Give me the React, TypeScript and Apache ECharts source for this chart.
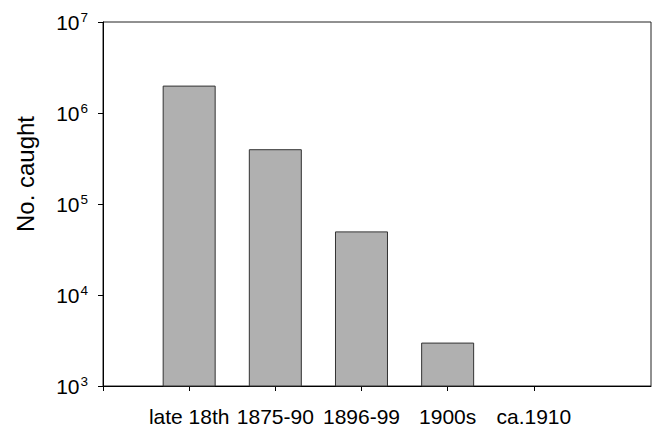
import React, { useEffect, useRef } from "react";
import * as echarts from "echarts";

const categories = ["late 18th", "1875-90", "1896-99", "1900s", "ca.1910"];
const caught: (number | null)[] = [2000000, 400000, 50000, 3000, null];
const xPositions = [1, 2, 3, 4, 5];
const xTickValues = [0, 1, 2, 3, 4, 5];
const yMin = 1000;
const yMax = 10000000;
const yAxisTitle = "No. caught";

export default function App() {
  const ref = useRef<HTMLDivElement>(null);
  useEffect(() => {
    if (!ref.current) return;
    const chart = echarts.init(ref.current, undefined, { renderer: "svg" });
    const font = "Liberation Sans, Arial, sans-serif";
    chart.setOption({
      animation: false,
      backgroundColor: "#ffffff",
      textStyle: { fontFamily: font },
      grid: {
        left: 103,
        right: 2,
        top: 22,
        bottom: 39,
        show: true,
        borderColor: "#222",
        borderWidth: 1,
        backgroundColor: "transparent",
      },
      graphic: [
        {
          type: "text",
          x: 25,
          y: 174,
          rotation: Math.PI / 2,
          style: {
            text: yAxisTitle,
            fontSize: 24,
            fontFamily: font,
            fill: "#000",
            textAlign: "center",
            textVerticalAlign: "middle",
          },
        },
      ],
      xAxis: {
        type: "value",
        min: 0,
        max: 6.36,
        interval: 1,
        splitLine: { show: false },
        axisLine: { show: true, lineStyle: { color: "#000", width: 1 } },
        axisTick: {
          show: true,
          length: 5,
          inside: false,
          customValues: xTickValues,
          lineStyle: { color: "#000" },
        },
        axisLabel: {
          customValues: xPositions,
          margin: 20,
          fontSize: 21,
          color: "#000",
          fontFamily: font,
          formatter: (v: number) => {
            const idx = xPositions.indexOf(Math.round(v));
            return idx >= 0 ? categories[idx] : "";
          },
        },
      },
      yAxis: {
        type: "log",
        logBase: 10,
        min: yMin,
        max: yMax,
        splitLine: { show: false },
        minorTick: { show: false },
        axisLine: { show: true, lineStyle: { color: "#000", width: 1 } },
        axisTick: { show: true, length: 5, inside: false, lineStyle: { color: "#000" } },
        axisLabel: {
          margin: 15,
          color: "#000",
          fontFamily: font,
          formatter: (v: number) => {
            const e = Math.round(Math.log10(v));
            return "{b|10}{s|" + e + "}";
          },
          rich: {
            b: { fontSize: 21, fontFamily: font, color: "#000" },
            s: {
              fontSize: 13.5,
              fontFamily: font,
              color: "#000",
              verticalAlign: "top",
              padding: [0, 0, 9, 1],
            },
          },
        },
      },
      series: [
        {
          type: "bar",
          barWidth: 53,
          clip: true,
          itemStyle: { color: "#b0b0b0", borderColor: "#333", borderWidth: 1 },
          data: xPositions.map((x, i) => [x, caught[i]]),
        },
      ],
    });
    return () => chart.dispose();
  }, []);
  return <div ref={ref} style={{ width: 653, height: 427, position: "absolute", left: 0, top: 0 }} />;
}
